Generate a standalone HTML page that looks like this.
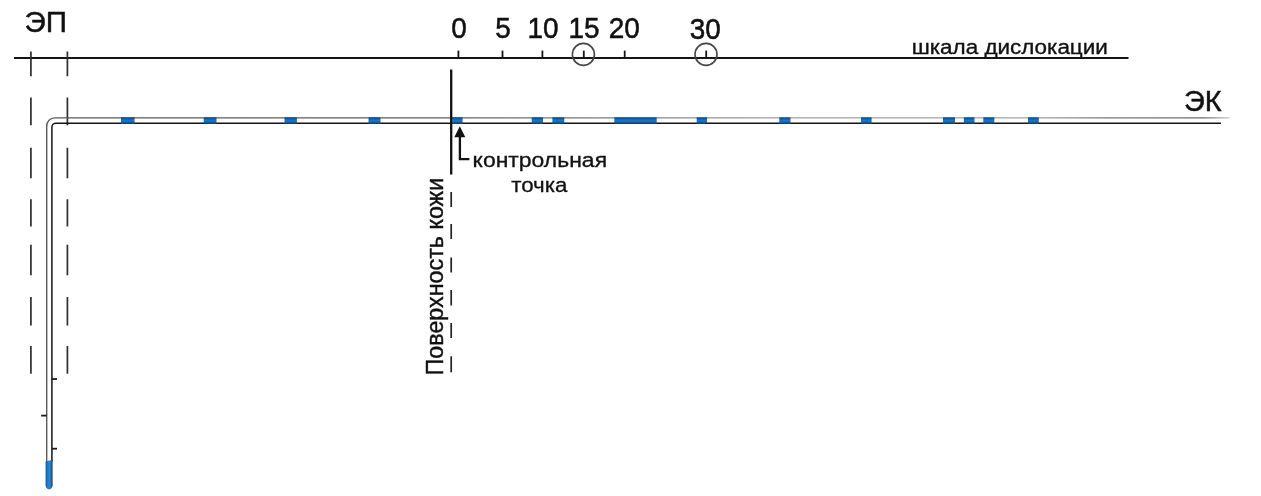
<!DOCTYPE html>
<html lang="ru">
<head>
<meta charset="utf-8">
<title>Шкала дислокации</title>
<style>
html,body{margin:0;padding:0;background:#fff;}
body{width:1261px;height:496px;overflow:hidden;position:relative;}
svg{position:absolute;left:0;top:0;display:block;filter:blur(0.45px);}
text{font-family:"Liberation Sans",Arial,sans-serif;fill:#111;}
</style>
</head>
<body>
<svg width="1261" height="496" viewBox="0 0 1261 496">
<rect width="1261" height="496" fill="#fff"/>

<!-- scale line -->
<line x1="14" y1="58.1" x2="1128.5" y2="58.1" stroke="#151515" stroke-width="2"/>
<!-- ticks -->
<g stroke="#151515" stroke-width="1.8">
<line x1="458.4" y1="50.6" x2="458.4" y2="58"/>
<line x1="502.5" y1="50.6" x2="502.5" y2="58"/>
<line x1="542.4" y1="50.6" x2="542.4" y2="58"/>
<line x1="583.8" y1="50.6" x2="583.8" y2="58"/>
<line x1="624.7" y1="50.6" x2="624.7" y2="58"/>
<line x1="706.2" y1="50.6" x2="706.2" y2="58"/>
</g>
<g fill="none" stroke="#464646" stroke-width="1.6">
<circle cx="583.4" cy="54.4" r="11"/>
<circle cx="706" cy="54.4" r="11"/>
</g>
<!-- scale numbers -->
<g font-size="28" text-anchor="middle" stroke="#111" stroke-width="0.5">
<text transform="translate(459 38.2) scale(1 1.065)">0</text>
<text transform="translate(503 38.2) scale(1 1.065)">5</text>
<text transform="translate(543 38.2) scale(1 1.065)">10</text>
<text transform="translate(584 38.2) scale(1 1.065)">15</text>
<text transform="translate(624.2 38.2) scale(1 1.065)">20</text>
<text transform="translate(705.2 39.2) scale(0.995 1.075)">30</text>
</g>
<g stroke="#111" stroke-width="0.45">
<text transform="translate(911.8 53.7) scale(1.08 1)" font-size="20.8" stroke-width="0.35">шкала дислокации</text>
<text transform="translate(24.5 31.5) scale(1.055 1.03)" font-size="28">ЭП</text>
<text transform="translate(1183.9 111) scale(1.032 1.06)" font-size="28">ЭК</text>
</g>

<!-- dashed guide lines -->
<g stroke="#2e2e2e" stroke-width="1.7">
<path d="M30.9 51.5V76.3M30.9 97.6V125.3M30.9 147.7V178.2M30.9 199.3V226.4M30.9 244.7V275.3M30.9 296.9V325.4M30.9 345.9V373.7"/>
<path d="M67.4 51.5V76.3M67.4 97.6V125.3M67.4 147.7V178.2M67.4 199.3V226.4M67.4 244.7V275.3M67.4 296.9V325.4M67.4 345.9V373.7"/>
</g>

<!-- tube: outer (grey) and inner (black) lines -->
<defs><linearGradient id="topg" gradientUnits="userSpaceOnUse" x1="0" y1="0" x2="1261" y2="0"><stop offset="0" stop-color="#585858"/><stop offset="0.35" stop-color="#606060"/><stop offset="0.5" stop-color="#808080"/><stop offset="0.62" stop-color="#a0a0a0"/><stop offset="0.82" stop-color="#a4a4a4"/><stop offset="0.88" stop-color="#777"/><stop offset="0.955" stop-color="#6a6a6a"/><stop offset="0.975" stop-color="#c8c8c8"/></linearGradient></defs>
<path d="M1229.5 117.9H54.7a8 8 0 0 0 -8 8V462" fill="none" stroke="url(#topg)" stroke-width="1.4"/>
<path d="M1221 123.2H55.9a4 4 0 0 0 -4 4V461" fill="none" stroke="#151515" stroke-width="1.5"/>
<!-- blue markers -->
<defs><linearGradient id="bl" x1="0" y1="0" x2="0" y2="1"><stop offset="0" stop-color="#1c4877"/><stop offset="0.25" stop-color="#0f60aa"/><stop offset="0.5" stop-color="#1b78c6"/><stop offset="0.75" stop-color="#0f60aa"/><stop offset="1" stop-color="#10345c"/></linearGradient></defs>
<g fill="url(#bl)">
<rect x="121" y="117.3" width="13.6" height="6.7"/>
<rect x="203.7" y="117.3" width="12.8" height="6.7"/>
<rect x="284.5" y="117.3" width="12.4" height="6.7"/>
<rect x="368.5" y="117.3" width="12" height="6.7"/>
<rect x="452.2" y="117.3" width="10.4" height="6.7"/>
<rect x="531.7" y="117.3" width="11.3" height="6.7"/>
<rect x="552.4" y="117.3" width="11.9" height="6.7"/>
<rect x="614.3" y="117.3" width="42.4" height="6.7"/>
<rect x="696.7" y="117.3" width="10.4" height="6.7"/>
<rect x="779.3" y="117.3" width="11.2" height="6.7"/>
<rect x="861" y="117.3" width="10.6" height="6.7"/>
<rect x="943" y="117.3" width="12" height="6.7"/>
<rect x="963.8" y="117.3" width="10.7" height="6.7"/>
<rect x="983.3" y="117.3" width="11" height="6.7"/>
<rect x="1028" y="117.3" width="10.8" height="6.7"/>
</g>

<defs><linearGradient id="tipg" x1="0" y1="0" x2="1" y2="0"><stop offset="0" stop-color="#134f8c"/><stop offset="0.28" stop-color="#1f79c6"/><stop offset="0.6" stop-color="#2a87d3"/><stop offset="1" stop-color="#103f73"/></linearGradient></defs>
<path d="M45.6 461.6L52.6 459.8V485.2Q52.3 488.6 49.1 489.6Q45.9 488.6 45.6 485.2Z" fill="url(#tipg)"/>
<!-- tube ticks -->
<g stroke="#1a1a1a" stroke-width="1.8">
<line x1="51.7" y1="379" x2="57" y2="379"/>
<line x1="41.2" y1="415.6" x2="46.7" y2="415.6"/>
<line x1="51.7" y1="448.7" x2="57" y2="448.7"/>
</g>

<!-- skin surface line -->
<line x1="451.2" y1="69.5" x2="451.2" y2="174.5" stroke="#111" stroke-width="2.3"/>
<path d="M451.2 192V207M451.2 224V239M451.2 257.5V272.5M451.2 290V305.5M451.2 323V338M451.2 356.3V372.2" stroke="#222" stroke-width="1.7" fill="none"/>
<text transform="translate(442.7 375.4) rotate(-90) scale(1.013 1.04)" font-size="23" stroke="#111" stroke-width="0.4">Поверхность кожи</text>

<!-- arrow and label -->
<path d="M459.9 136V159.2H469.4" fill="none" stroke="#111" stroke-width="2.3"/>
<path d="M459.8 126.2L465.3 137.3H454.3Z" fill="#111"/>
<text transform="translate(472.6 167.25) scale(1.104 1)" font-size="20.8" stroke="#111" stroke-width="0.3">контрольная</text>
<text transform="translate(511.2 191.5) scale(1.075 1)" font-size="20.8" stroke="#111" stroke-width="0.3">точка</text>
</svg>
</body>
</html>
